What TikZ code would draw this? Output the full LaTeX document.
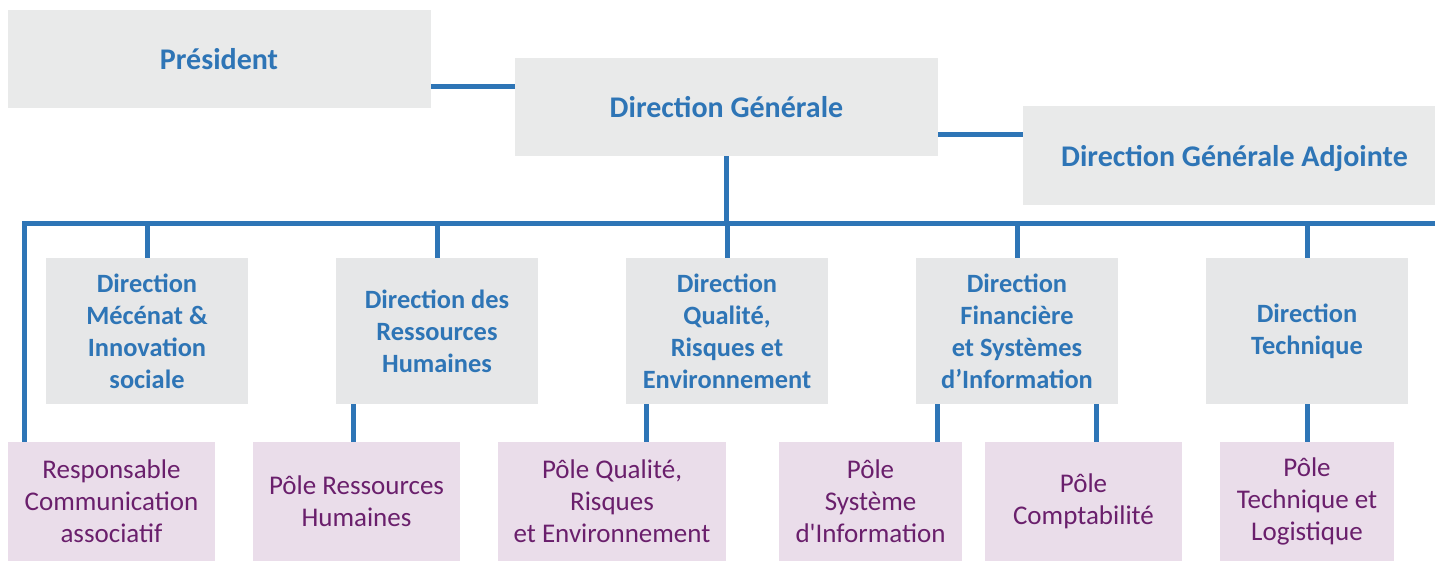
\documentclass[tikz,border=0pt]{standalone}
\usepackage{fontspec}
\setmainfont{Carlito}
\usetikzlibrary{positioning}

\definecolor{bleu}{HTML}{2E75B6}
\definecolor{gris}{HTML}{E9EAEA}
\definecolor{grisdir}{HTML}{E6E7E8}
\definecolor{rose}{HTML}{EADDEA}
\definecolor{violet}{HTML}{6A1F6C}

\begin{document}
\begin{tikzpicture}[
  x=0.5pt, y=-0.5pt,
  chef/.style={fill=gris, text=bleu, align=center, minimum width=211.5pt, minimum height=49pt, inner sep=0pt, text depth=0pt, font=\fontsize{15}{17}\selectfont\bfseries},
  dir/.style={fill=grisdir, text=bleu, align=center, minimum width=101pt, minimum height=73pt, inner sep=0pt, font=\fontsize{13.2}{16}\selectfont\bfseries},
  pole/.style={fill=rose, text=violet, align=center, minimum height=59.5pt, inner sep=0pt, font=\fontsize{13.5}{16}\selectfont},
  lien/.style={draw=bleu, line width=2.5pt}
]
  \useasboundingbox (0,0) rectangle (1435,583);

  % direction
  \node[chef] (pres) at (219,59) {Président};
  \node[chef] (dg) at (726.5,107) {Direction Générale};
  \node[chef] (dga) at (1234.5,155.5) {Direction Générale Adjointe};

  \draw[lien] ([yshift=11pt]pres.south east) -- ([yshift=11pt]pres.south east -| dg.west);
  \draw[lien] ([yshift=11pt]dg.south east) -- ([yshift=11pt]dg.south east -| dga.west);

  % directions
  \node[dir] (dmis) at (147,331) {Direction\\Mécénat \&\\Innovation\\sociale};
  \node[dir] (drh) at (437,331) {Direction des\\Ressources\\Humaines};
  \node[dir] (dqre) at (727,331) {Direction\\Qualité,\\Risques et\\Environnement};
  \node[dir] (dfsi) at (1017,331) {Direction\\Financière\\et Systèmes\\d’Information};
  \node[dir] (dt) at (1307,331) {Direction\\Technique};

  % poles
  \node[pole, minimum width=103.5pt] (rca) at (111.5,501.5) {Responsable\\Communication\\associatif};
  \node[pole, minimum width=103.5pt] (prh) at (356.5,501.5) {Pôle Ressources\\Humaines};
  \node[pole, minimum width=114pt] (pqre) at (612,501.5) {Pôle Qualité,\\Risques\\et Environnement};
  \node[pole, minimum width=91.5pt] (psi) at (870.5,501.5) {Pôle\\Système\\d\textquotesingle Information};
  \node[pole, minimum width=98.5pt] (pc) at (1083.5,501.5) {Pôle\\Comptabilité};
  \node[pole, minimum width=87pt] (ptl) at (1307,501.5) {Pôle\\Technique et\\Logistique};

  % barre
  \coordinate (barg) at (24,223);
  \coordinate (bard) at (1440,223);
  \draw[lien] (bard) -- (barg) -- (barg |- rca.north);
  \draw[lien] (dg.south) -- (dg.south |- barg);
  \foreach \n in {dmis,drh,dqre,dfsi,dt}
    \draw[lien] (\n.north) -- (\n.north |- barg);

  \draw[lien] ([xshift=9pt]drh.south west) -- ([xshift=9pt]drh.south west |- prh.north);
  \draw[lien] ([xshift=10.5pt]dqre.south west) -- ([xshift=10.5pt]dqre.south west |- pqre.north);
  \draw[lien] ([xshift=11pt]dfsi.south west) -- ([xshift=11pt]dfsi.south west |- psi.north);
  \draw[lien] ([xshift=-11pt]dfsi.south east) -- ([xshift=-11pt]dfsi.south east |- pc.north);
  \draw[lien] (dt.south) -- (ptl.north);
\end{tikzpicture}
\end{document}
